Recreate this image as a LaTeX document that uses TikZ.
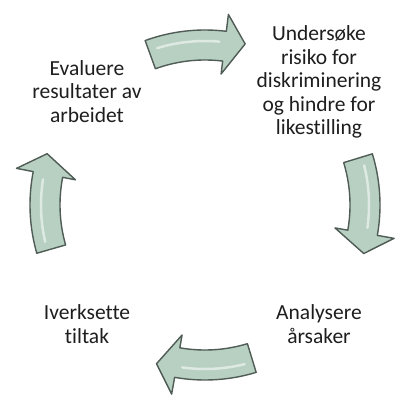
\documentclass[tikz,border=0pt]{standalone}
\usepackage{fontspec}
\setmainfont{Carlito}[Ligatures=CommonOff]
\definecolor{arrowfill}{HTML}{B7D0C2}
\definecolor{arrowline}{HTML}{505C56}
\definecolor{txtcol}{HTML}{1E1E1E}
\tikzset{
  arrowstyle/.style={draw=arrowline, fill=arrowfill, line width=1.4pt, line join=round},
  highlight/.style={draw=white, opacity=0.55, line width=2.5pt, line cap=round},
  lbl/.style={font=\fontsize{21.5}{23.5}\selectfont, align=center, text=txtcol, inner sep=0pt}
}
\newcommand{\cyclearrow}[1]{%
  \pgfmathsetmacro\ta{#1}%
  \pgfmathsetmacro\tb{#1-27}%
  \pgfmathsetmacro\tp{#1-34}%
  \pgfmathsetmacro\ha{#1-3}%
  \pgfmathsetmacro\hb{#1-25}%
  \draw[arrowstyle] (\ta:175pt) arc[start angle=\ta, end angle=\tb, radius=175pt]
    -- (\tb:192pt) -- (\tp:166pt) -- (\tb:132pt) -- (\tb:145pt)
    arc[start angle=\tb, end angle=\ta, radius=145pt] -- cycle;
  \draw[highlight] (\ha:164pt) arc[start angle=\ha, end angle=\hb, radius=164pt];
}
\begin{document}
\begin{tikzpicture}[x=1pt,y=1pt]
\useasboundingbox[fill=white] (0,0) rectangle (412,405);
\begin{scope}[shift={(205,200)}]
  \cyclearrow{110}
  \cyclearrow{17}
  \cyclearrow{-73}
  \cyclearrow{196}
\end{scope}
\node[lbl, anchor=base] (u) at (319,270) {Undersøke\\risiko for\\diskriminering\\og hindre for\\likestilling};
\node[lbl, anchor=base] (e) at (87,283) {Evaluere\\resultater av\\arbeidet};
\node[lbl, anchor=base] (i) at (87,62) {Iverksette\\tiltak};
\node[lbl, anchor=base] (a) at (319,62) {Analysere\\årsaker};
\end{tikzpicture}
\end{document}
